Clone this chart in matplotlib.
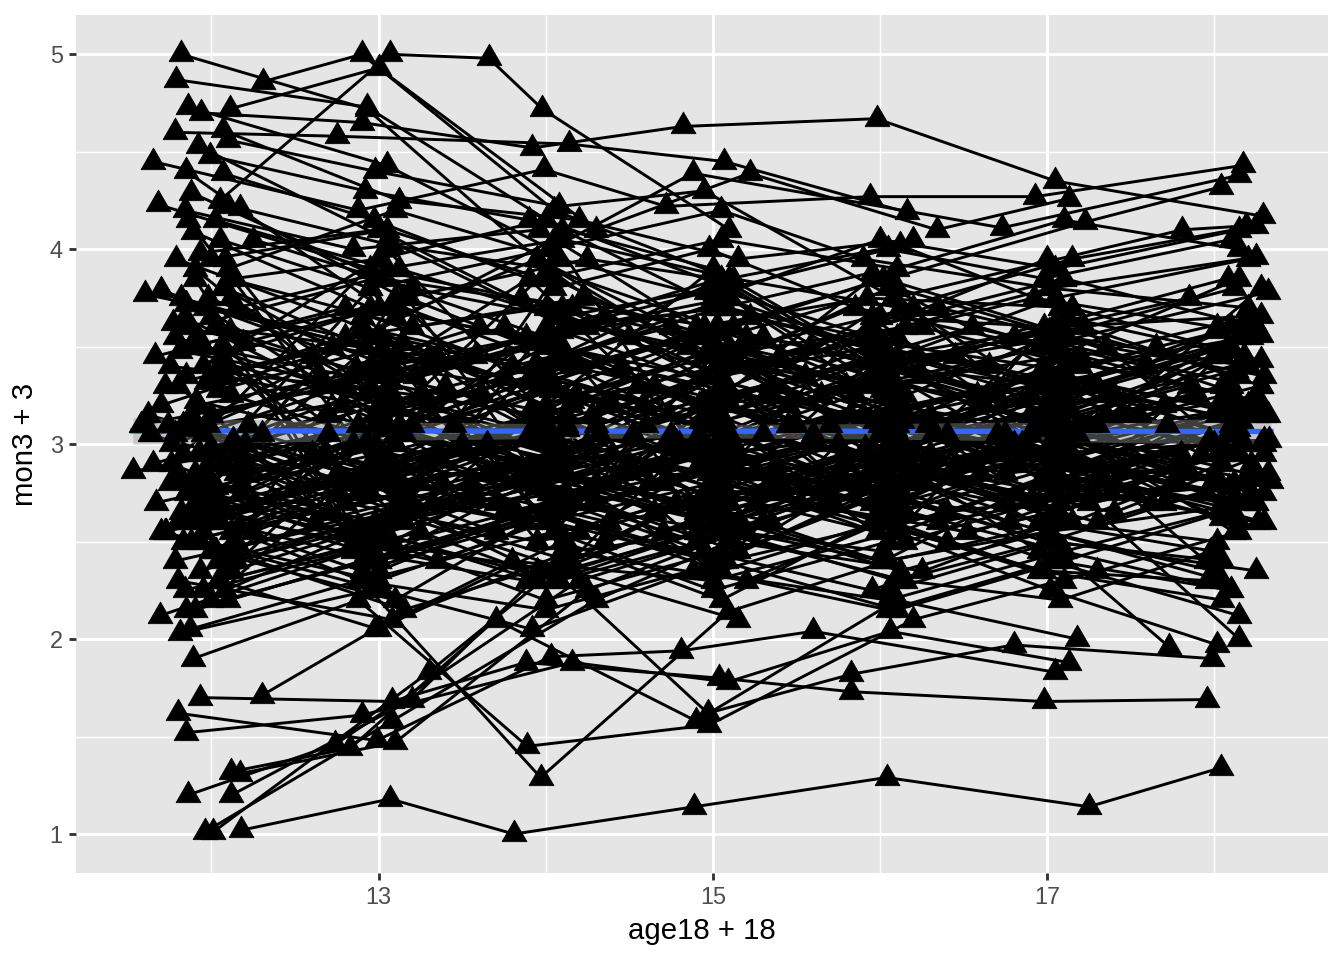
import numpy as np
import matplotlib
matplotlib.use("Agg")
import matplotlib.pyplot as plt

plt.rcParams['font.family'] = ['Liberation Sans', 'DejaVu Sans']

# one row per subject: ages (age18 + 18) and scores (mon3 + 3)
ages = [
    [12.18, 13.07, 13.81, 14.89, 16.04, 17.25, 18.04],
    [11.82, 12.93, 13.95, 15.02, 16.10],
    [12.31, 12.90, 14.05, 15.10, 16.12, 17.08],
    [11.79, 12.93, 14.10, 15.05, 15.95],
    [12.05, 13.07, 13.66, 13.98, 15.10],
    [11.78, 12.75, 14.14, 15.07, 16.16],
    [12.11, 13.00, 14.30, 15.22, 16.34, 17.13],
    [11.94, 12.90, 13.92, 14.82, 15.98, 17.05, 18.29],
    [11.65, 12.88, 13.99, 14.72, 15.94, 16.93, 18.17],
    [11.86, 13.05, 14.03, 14.88, 16.73, 18.15],
    [11.68, 12.95, 13.85, 15.03, 16.06, 17.23, 18.04],
    [12.07, 13.12, 14.20, 15.15, 16.20],
    [12.10, 12.98, 14.08, 14.95, 16.08, 17.81, 18.19],
    [11.92, 13.05, 14.12, 15.08, 15.90, 17.02, 18.25],
    [11.99, 12.92, 13.90, 15.00, 16.02, 17.10],
    [11.85, 13.10, 13.95, 15.12, 15.85, 16.95, 18.32],
    [12.07, 12.97, 14.05, 14.98, 16.00, 17.05, 18.28],
    [11.88, 13.02, 14.16, 15.05, 16.25, 17.20, 18.28],
    [11.84, 12.85, 13.96, 14.90, 15.92, 17.15, 18.28],
    [12.10, 13.15, 14.25, 15.02, 16.10, 17.00],
    [12.17, 13.08, 14.02, 15.20, 16.05],
    [11.89, 12.95, 13.88, 15.05, 15.98, 17.08, 18.02],
    [12.25, 13.20, 14.10, 14.95, 16.15],
    [11.79, 12.90, 13.93, 15.10, 16.02, 17.05, 18.10],
    [11.93, 13.00, 14.05, 14.85, 16.10, 17.12, 18.20],
    [11.60, 12.80, 14.00, 15.05, 15.95, 16.90],
    [11.70, 12.95, 13.75, 14.92, 16.05, 17.18, 18.05],
    [11.53, 12.98, 14.12, 15.00, 16.08],
    [11.62, 12.92, 13.98, 15.08, 16.00, 17.02, 18.30],
    [11.64, 13.05, 14.02, 14.95, 15.85, 16.98],
    [11.69, 12.85, 13.89, 15.15, 16.12, 17.00, 18.25],
    [11.81, 12.95, 13.97, 15.09, 16.05, 17.10],
    [11.89, 12.88, 13.89, 14.98, 16.20, 17.30],
    [11.93, 13.08, 13.88, 15.04, 15.83, 16.98, 17.96],
    [11.80, 12.99, 14.03, 14.81, 15.60, 17.05],
    [11.85, 12.90, 14.16, 15.09, 16.06, 17.13],
    [11.86, 12.74, 14.20, 15.15, 16.02],
    [12.12, 12.83, 13.70, 14.90, 16.10, 17.18],
    [12.17, 13.10, 14.25, 15.30, 16.00],
    [12.12, 13.20, 14.10, 15.20, 16.15, 17.02, 18.15],
    [11.96, 13.08, 14.30, 15.10, 16.25],
    [12.01, 13.30, 14.05, 14.97, 15.83, 16.80, 17.99],
    [12.30, 12.98, 13.80, 15.00, 16.10, 17.02, 18.02],
    [12.00, 13.10, 14.00, 15.00, 16.05, 17.00, 17.73],
    [11.95, 12.85, 13.95, 14.88, 16.02, 17.05, 18.15],
    [12.05, 13.00, 14.10, 15.05, 15.95, 16.98, 17.96],
    [11.75, 13.25, 14.30, 15.35, 16.30, 17.35, 18.10],
    [11.90, 12.70, 13.70, 14.70, 15.70, 16.75, 17.80],
    [12.02, 13.30, 14.35, 15.30, 16.25, 17.30, 18.25],
    [11.83, 12.75, 13.65, 14.65, 15.75, 16.70, 17.75],
    [12.08, 13.28, 14.28, 15.25, 16.35, 17.28, 18.30],
    [11.72, 12.72, 13.75, 14.75, 15.65, 16.65, 17.70],
    [11.98, 13.22, 14.25, 15.28, 16.28, 17.25, 18.22],
    [12.15, 12.78, 13.72, 14.72, 15.72, 16.72, 17.72],
    [11.87, 13.18, 14.20, 15.22, 16.22, 17.22, 18.28],
    [12.00, 12.80, 13.78, 14.78, 15.78, 16.78, 17.78],
    [11.92, 13.35, 14.32, 15.32, 16.32, 17.32, 18.32],
    [11.80, 12.68, 13.62, 14.62, 15.62, 16.62, 17.62],
    [12.10, 13.20, 14.22, 15.20, 16.20, 17.20, 18.20],
    [11.95, 12.82, 13.82, 14.82, 15.82, 16.82, 17.85],
    [12.04, 13.32, 14.40, 15.40, 16.40, 17.40, 18.30],
    [11.84, 12.65, 13.58, 14.58, 15.58, 16.58, 17.58],
    [12.20, 13.40, 14.45, 15.45, 16.45, 17.45, 17.92],
    [11.76, 12.62, 13.55, 14.52, 15.52, 16.52, 17.52],
    [12.06, 13.00, 14.10, 15.05, 16.02, 17.08, 18.15],
    [11.90, 12.85, 14.02, 14.90, 16.15, 17.05, 18.05],
    [12.12, 13.10, 13.92, 15.00, 16.00, 17.18, 18.25],
    [11.78, 13.05, 14.05, 15.08, 15.90, 16.98, 18.00],
    [11.97, 12.98, 14.15, 15.12, 16.08, 17.00, 18.12],
    [12.02, 13.02, 14.00, 14.98, 16.05, 17.10, 18.08],
    [11.88, 12.90, 13.88, 15.05, 16.10, 17.05, 18.18],
    [12.15, 13.12, 14.08, 15.00, 15.95, 16.92, 18.02],
    [11.74, 12.95, 14.12, 15.10, 16.02, 17.15, 18.22],
    [11.93, 13.08, 14.02, 14.95, 16.00, 17.02, 18.10],
    [12.08, 12.92, 13.96, 15.02, 16.12, 17.08, 18.05],
    [11.82, 13.00, 14.05, 15.08, 16.05, 16.95, 18.00],
    [12.00, 13.05, 14.18, 15.15, 16.08, 17.12, 18.28],
    [11.95, 12.88, 13.92, 14.90, 15.92, 17.00, 18.08],
    [12.18, 13.15, 14.05, 15.05, 16.10, 17.05, 18.15],
    [11.86, 12.98, 14.00, 15.00, 16.00, 17.10, 18.20],
    [11.90, 13.05, 15.02, 17.00],
    [12.05, 14.00, 16.05, 18.10],
    [11.80, 12.95, 14.10, 16.00],
    [12.10, 13.02, 15.10, 16.95, 18.05],
    [11.96, 14.05, 15.00, 17.05],
    [12.00, 13.10, 14.95, 16.10, 18.15],
    [11.85, 13.00, 14.02, 15.08, 17.10],
    [12.22, 13.08, 15.05, 16.02, 17.08, 18.25],
    [11.73, 12.90, 14.08, 16.05, 17.95],
    [12.08, 13.00, 14.00, 15.15, 16.98],
    [11.98, 12.95, 14.15, 15.02, 16.08, 18.10],
    [11.92, 13.12, 14.05, 16.00, 17.02],
    [12.03, 13.05, 14.95, 15.95, 17.05, 18.05],
    [11.88, 12.92, 13.95, 15.05, 16.90, 18.20],
    [12.12, 14.10, 15.00, 16.05, 17.00, 18.00],
    [11.94, 13.00, 14.02, 15.10, 16.12, 17.15],
    [11.76, 12.98, 13.90, 14.92, 16.00, 17.05, 18.12],
    [12.06, 13.10, 14.12, 15.02, 15.98, 17.10, 18.28],
    [11.84, 12.95, 14.05, 15.00, 16.02, 17.00, 18.05],
    [12.00, 13.05, 13.98, 15.05, 16.10, 17.10, 18.15],
    [11.90, 12.90, 14.10, 14.95, 15.95, 17.05, 18.02],
    [12.14, 13.00, 14.00, 15.10, 16.05, 16.98, 18.10],
    [11.80, 13.08, 14.15, 15.02, 16.15, 17.08, 17.98],
    [12.05, 12.95, 14.02, 15.05, 15.90, 17.02, 18.20],
    [11.93, 13.02, 13.92, 14.88, 16.05, 17.10, 18.10],
    [12.10, 13.10, 14.08, 15.00, 16.00, 17.05, 18.15],
    [11.87, 12.88, 14.00, 15.08, 16.08, 16.95, 18.05],
    [12.02, 13.05, 14.10, 15.12, 16.12, 17.15, 18.25],
    [11.70, 12.60, 13.50, 14.55, 15.50, 16.60, 17.55],
    [12.25, 13.35, 14.40, 15.35, 16.40, 17.40],
    [11.95, 13.40, 14.50, 15.55, 16.55, 17.60],
    [12.18, 12.70, 13.65, 14.60, 15.65, 16.65, 17.70],
    [11.82, 13.30, 14.35, 15.40, 16.35, 17.35, 18.30],
    [12.30, 13.25, 14.25, 15.25, 16.30, 17.25],
    [11.92, 12.75, 13.70, 14.70, 15.75, 16.75, 17.80],
    [12.08, 13.45, 14.45, 15.45, 16.45, 17.45],
    [11.66, 12.80, 13.80, 14.75, 15.80, 16.80, 17.85],
    [12.20, 13.20, 14.30, 15.30, 16.25, 17.30, 18.32],
    [11.98, 12.65, 13.60, 14.65, 15.60, 16.70, 17.65],
    [12.12, 13.38, 14.38, 15.38, 16.38, 17.38],
    [11.86, 13.05, 14.95, 16.95],
    [12.04, 14.02, 16.00, 18.00],
    [11.90, 12.98, 15.05, 17.05, 18.15],
    [12.15, 13.10, 14.10, 17.00],
    [11.78, 14.05, 15.10, 18.10],
    [12.00, 13.00, 16.05, 17.95],
    [11.95, 12.90, 13.95, 15.95, 18.05],
    [12.10, 13.15, 15.00, 16.10, 17.10],
    [11.83, 13.05, 14.00, 15.05, 18.20],
    [12.07, 14.08, 15.02, 16.02, 17.05],
    [11.91, 12.93, 14.03, 15.04, 16.03, 17.03, 18.06],
    [12.09, 13.04, 14.07, 14.97, 16.07, 17.07, 18.14],
    [11.81, 12.96, 13.97, 15.06, 15.97, 16.97, 18.01],
    [12.01, 13.06, 14.11, 15.01, 16.11, 17.11, 18.21],
    [11.97, 12.91, 13.93, 14.93, 15.93, 17.01, 18.11],
    [12.13, 13.13, 14.13, 15.13, 16.13, 17.13, 18.23],
    [11.77, 12.87, 13.91, 15.01, 16.01, 17.06, 18.09],
    [12.03, 13.03, 14.01, 14.91, 15.91, 16.91, 17.97],
    [11.89, 13.09, 14.09, 15.09, 16.09, 17.09, 18.16],
    [12.17, 12.97, 13.99, 14.99, 15.99, 17.04, 18.04],
    [11.85, 13.01, 14.06, 15.03, 16.06, 16.99, 18.13],
    [11.99, 12.94, 14.04, 14.94, 16.04, 17.14, 18.19],
    [12.06, 13.11, 14.14, 15.07, 15.96, 17.01, 18.07],
    [11.79, 12.99, 13.94, 15.11, 16.11, 17.06, 18.11],
    [12.11, 13.07, 14.02, 14.96, 15.99, 17.03, 18.03],
    [11.94, 12.89, 13.89, 14.89, 16.01, 16.96, 18.09],
    [12.04, 13.14, 14.16, 15.14, 16.14, 17.16, 18.26],
    [11.87, 12.93, 13.96, 15.04, 16.04, 17.04, 18.14],
    [12.19, 13.09, 14.04, 15.09, 16.01, 17.09, 18.24],
    [11.91, 13.01, 13.99, 14.94, 16.09, 17.11, 18.04],
    [11.58, 12.80, 13.90, 14.98, 16.02, 17.02, 18.33],
    [11.63, 12.88, 14.02, 15.06, 15.96, 17.08, 18.34],
    [11.67, 13.00, 13.95, 14.92, 16.05, 17.00, 18.30],
    [11.72, 12.92, 14.08, 15.02, 15.98, 16.95, 18.26],
    [11.88, 12.95, 14.20, 15.10, 16.30, 17.15, 18.10],
    [12.02, 13.20, 14.05, 14.90, 15.80, 16.90, 18.00],
    [11.75, 12.85, 13.55, 14.80, 15.70, 17.00, 18.20],
    [12.12, 13.05, 14.40, 15.20, 16.15, 17.10, 18.30],
    [11.95, 12.60, 13.80, 15.00, 16.00, 16.85, 17.90],
    [12.20, 13.15, 14.15, 14.85, 16.20, 17.25, 18.15],
    [11.70, 13.00, 14.00, 15.25, 16.05, 17.05, 18.05],
    [12.08, 12.90, 13.70, 15.05, 15.75, 16.75, 17.85],
    [11.85, 13.10, 14.10, 14.95, 16.40, 17.20, 18.25],
    [12.00, 13.35, 14.30, 15.15, 16.00, 17.00, 18.12],
    [11.92, 12.80, 13.95, 15.40, 16.10, 17.30, 18.18],
    [12.15, 13.08, 14.50, 15.00, 15.90, 16.95, 18.02],
    [11.80, 12.98, 13.85, 14.70, 16.25, 17.05, 18.22],
    [12.05, 13.25, 14.05, 15.10, 16.05, 17.40, 18.30],
    [11.90, 12.92, 14.25, 14.95, 15.85, 16.80, 17.95],
    [12.25, 13.00, 14.00, 15.30, 16.15, 17.15, 18.08],
    [11.65, 12.70, 13.90, 15.00, 16.00, 17.00, 17.80],
    [12.10, 13.10, 14.15, 14.85, 15.95, 17.10, 18.25],
    [11.98, 13.05, 13.75, 15.08, 16.30, 17.20, 18.15],
    [12.00, 12.95, 14.08, 15.15, 16.08, 16.90, 18.02],
    [11.83, 13.15, 14.35, 15.05, 16.12, 17.05, 18.10],
    [12.18, 12.88, 13.98, 14.92, 15.80, 16.95, 18.20],
    [11.93, 13.02, 14.12, 15.35, 16.20, 17.15, 18.05],
    [12.07, 13.30, 14.05, 15.00, 16.05, 17.35, 18.28],
    [11.87, 12.90, 13.88, 14.98, 16.00, 17.02, 18.15],
    [12.02, 13.00, 14.10, 15.05, 16.10, 17.05, 18.20],
    [11.90, 13.12, 14.02, 15.12, 16.02, 16.98, 18.08],
    [12.12, 12.95, 13.95, 14.95, 15.95, 17.10, 18.25],
    [11.80, 13.05, 14.15, 15.02, 16.15, 17.02, 18.12],
    [12.05, 12.98, 14.05, 15.10, 16.08, 17.12, 18.18],
    [11.95, 13.05, 14.00, 15.05],
    [14.95, 16.05, 17.05, 18.10],
    [12.10, 13.15, 14.10],
    [15.10, 16.10, 17.00, 18.05],
    [12.00, 12.90, 14.05, 15.00, 16.05],
    [13.00, 14.00, 15.05, 16.00, 17.10, 18.15],
    [11.78, 13.08, 14.15, 15.15],
    [16.05, 17.05, 18.25],
    [12.15, 13.00, 13.95, 14.90, 15.90, 17.00, 18.00],
    [11.85, 12.95, 14.05, 15.05, 16.10, 17.10, 18.05],
]

mon = [
    [1.02, 1.18, 1.00, 1.14, 1.29, 1.14, 1.34],
    [5.00, 4.72, 3.95, 3.40, 3.55],
    [4.86, 5.00, 4.20, 3.85, 4.02, 3.70],
    [4.87, 4.73, 4.10, 3.70, 3.88],
    [4.25, 5.00, 4.98, 4.72, 4.10],
    [4.60, 4.58, 4.54, 4.45, 4.19],
    [4.72, 4.93, 4.10, 4.39, 4.10, 4.26],
    [4.70, 4.65, 4.52, 4.63, 4.67, 4.35, 4.17],
    [4.45, 4.20, 4.41, 4.22, 4.27, 4.27, 4.43],
    [4.73, 4.43, 4.00, 4.39, 4.11, 4.38],
    [4.23, 3.90, 3.75, 3.60, 3.85, 4.14, 4.32],
    [4.61, 4.25, 4.15, 3.95, 4.05],
    [4.56, 4.40, 4.22, 4.30, 3.75, 4.10, 4.12],
    [4.53, 4.05, 3.60, 3.70, 3.55, 3.80, 3.96],
    [4.48, 4.30, 4.15, 3.90, 3.40, 3.55],
    [4.40, 3.65, 3.95, 3.45, 3.70, 3.50, 3.78],
    [4.39, 4.15, 3.80, 4.00, 3.65, 3.60, 3.66],
    [4.29, 3.85, 3.70, 3.35, 3.60, 3.40, 3.56],
    [4.20, 4.00, 4.10, 3.60, 3.75, 3.70, 3.43],
    [4.22, 3.75, 3.95, 3.85, 3.30, 3.20],
    [4.21, 4.02, 3.90, 3.55, 3.25],
    [4.09, 3.70, 3.55, 3.85, 3.40, 3.30, 3.15],
    [4.05, 3.80, 3.65, 3.45, 3.60],
    [3.95, 3.60, 3.40, 3.75, 3.30, 3.45, 3.25],
    [3.98, 4.10, 3.65, 3.50, 3.80, 3.55, 3.40],
    [3.77, 3.55, 3.70, 3.35, 3.50, 3.25],
    [3.79, 3.40, 3.60, 3.20, 3.45, 3.10, 3.30],
    [2.86, 3.10, 2.75, 2.95, 3.05],
    [3.15, 2.85, 3.30, 3.05, 2.75, 3.00, 3.02],
    [3.05, 3.25, 2.90, 3.10, 2.80, 2.95],
    [2.12, 2.45, 2.30, 2.60, 2.35, 2.55, 2.70],
    [2.03, 2.25, 1.29, 2.14, 2.40, 2.60],
    [1.90, 2.20, 1.45, 1.56, 2.10, 2.35],
    [1.70, 1.68, 1.88, 1.80, 1.73, 1.68, 1.69],
    [1.62, 1.48, 1.91, 1.94, 2.04, 1.83],
    [1.52, 1.61, 1.88, 1.78, 2.04, 1.88],
    [1.20, 1.46, 2.30, 2.55, 2.45],
    [1.32, 1.44, 2.10, 1.58, 2.20, 2.00],
    [1.31, 1.47, 2.25, 2.60, 2.40],
    [1.20, 1.69, 2.45, 2.30, 2.65, 2.40, 2.12],
    [1.01, 1.58, 2.20, 2.50, 2.35],
    [1.01, 1.83, 2.35, 1.62, 1.82, 1.97, 1.90],
    [1.71, 2.05, 2.40, 2.30, 2.55, 2.25, 1.97],
    [2.45, 2.20, 2.65, 2.40, 2.75, 2.50, 1.96],
    [2.55, 2.80, 2.35, 2.60, 2.40, 2.85, 2.00],
    [2.30, 2.05, 2.50, 2.20, 2.60, 2.35, 2.30],
    [3.40, 3.25, 3.10, 3.30, 2.95, 3.15, 3.05],
    [2.80, 3.05, 2.70, 2.90, 3.10, 2.85, 2.95],
    [3.60, 3.45, 3.20, 3.55, 3.35, 3.10, 3.25],
    [3.10, 2.75, 3.00, 2.65, 2.85, 3.05, 2.80],
    [2.65, 2.90, 3.15, 2.85, 2.60, 2.75, 3.00],
    [3.30, 3.50, 3.35, 3.05, 3.25, 3.40, 3.20],
    [3.75, 3.35, 3.60, 3.40, 3.10, 3.30, 3.55],
    [2.95, 3.20, 2.85, 3.00, 2.70, 2.95, 3.10],
    [3.50, 3.75, 3.40, 3.65, 3.45, 3.60, 3.30],
    [2.75, 2.55, 2.90, 2.70, 2.95, 2.60, 2.80],
    [3.20, 3.45, 3.05, 3.25, 3.05, 2.85, 3.15],
    [2.60, 2.95, 3.25, 2.80, 3.00, 3.20, 2.70],
    [3.85, 3.60, 3.75, 3.50, 3.70, 3.45, 3.65],
    [3.05, 2.80, 2.65, 2.95, 3.15, 2.90, 2.85],
    [2.40, 2.70, 2.95, 2.75, 2.50, 2.80, 2.60],
    [3.65, 3.30, 3.45, 3.20, 3.50, 3.25, 3.40],
    [3.00, 3.30, 2.85, 3.10, 2.90, 3.15, 2.95],
    [2.90, 2.60, 2.80, 3.05, 2.70, 2.55, 2.75],
    [3.45, 3.70, 3.50, 3.25, 3.45, 3.60, 3.35],
    [2.70, 3.00, 2.75, 2.50, 2.80, 2.65, 2.95],
    [3.25, 3.00, 3.35, 3.15, 3.35, 3.05, 3.20],
    [3.55, 3.20, 2.95, 3.40, 3.15, 3.35, 3.00],
    [2.85, 3.15, 3.40, 3.00, 3.25, 2.80, 3.05],
    [3.35, 3.55, 3.20, 3.45, 3.00, 3.25, 3.50],
    [2.50, 2.75, 2.60, 2.90, 2.65, 2.95, 2.70],
    [3.70, 3.90, 3.65, 3.80, 3.55, 3.75, 3.60],
    [3.10, 2.90, 3.15, 2.85, 3.05, 3.30, 2.90],
    [2.95, 3.25, 3.05, 3.35, 3.10, 2.90, 3.15],
    [3.80, 3.50, 3.30, 3.60, 3.40, 3.15, 3.45],
    [2.65, 2.40, 2.70, 2.55, 2.85, 2.60, 2.45],
    [3.15, 3.40, 3.25, 2.95, 3.20, 3.05, 3.30],
    [3.40, 3.10, 3.35, 3.55, 3.30, 3.50, 3.25],
    [2.80, 3.05, 2.85, 2.65, 2.90, 2.75, 2.95],
    [3.60, 3.85, 3.55, 3.70, 3.50, 3.30, 3.55],
    [3.90, 3.10, 2.60, 3.30],
    [2.60, 3.50, 2.80, 3.60],
    [3.30, 2.45, 3.70, 2.90],
    [2.35, 3.40, 3.75, 2.70, 3.20],
    [3.70, 2.55, 3.45, 2.85],
    [2.20, 3.05, 3.60, 3.10, 3.85],
    [3.35, 3.95, 2.75, 3.25, 2.60],
    [3.10, 2.50, 3.35, 2.60, 3.70, 2.85],
    [2.55, 3.65, 3.00, 3.80, 2.40],
    [3.95, 2.95, 3.60, 2.45, 3.40],
    [2.90, 3.80, 2.40, 3.15, 3.75, 2.65],
    [3.55, 2.70, 3.85, 3.05, 2.55],
    [2.45, 3.20, 2.75, 3.65, 3.00, 3.45],
    [3.15, 2.55, 3.40, 3.85, 2.95, 3.60],
    [3.75, 2.65, 3.15, 2.50, 3.35, 2.80],
    [2.75, 3.55, 2.60, 3.50, 2.90, 3.70],
    [3.00, 3.35, 3.85, 3.00, 2.65, 3.10, 2.55],
    [3.50, 2.85, 3.10, 2.70, 3.45, 2.95, 3.80],
    [2.25, 2.50, 2.35, 2.65, 2.40, 2.55, 2.30],
    [3.95, 4.10, 3.85, 4.05, 3.90, 4.15, 4.00],
    [2.15, 2.40, 2.70, 2.45, 2.25, 2.60, 2.50],
    [3.85, 3.95, 4.15, 3.80, 4.00, 3.85, 4.05],
    [2.30, 2.10, 2.45, 2.55, 2.30, 2.20, 2.45],
    [4.05, 3.80, 4.00, 4.20, 3.95, 3.80, 3.70],
    [2.50, 2.25, 2.05, 2.35, 2.20, 2.45, 2.25],
    [3.90, 4.20, 3.95, 3.75, 4.05, 3.90, 4.10],
    [2.05, 2.30, 2.15, 2.40, 2.60, 2.35, 2.20],
    [4.15, 3.90, 4.05, 3.85, 3.70, 3.95, 4.12],
    [3.20, 3.45, 3.00, 3.30, 3.10, 2.85, 3.15],
    [2.70, 2.95, 3.20, 2.80, 3.05, 3.25],
    [3.50, 3.25, 3.55, 3.35, 3.60, 3.40],
    [2.90, 2.65, 2.85, 3.10, 2.75, 2.95, 2.70],
    [3.75, 3.40, 3.65, 3.45, 3.70, 3.50, 3.35],
    [3.05, 2.80, 3.00, 2.70, 2.90, 3.10],
    [2.60, 2.85, 2.55, 2.80, 3.00, 2.70, 2.90],
    [3.35, 3.10, 3.40, 3.20, 3.45, 3.15],
    [3.45, 3.70, 3.40, 3.60, 3.30, 3.55, 3.75],
    [2.85, 3.10, 2.80, 3.05, 2.85, 2.60, 2.85],
    [3.10, 3.35, 3.60, 3.30, 3.05, 3.25, 3.50],
    [2.55, 2.80, 2.60, 2.90, 2.65, 2.75],
    [4.15, 2.80, 3.55, 2.45],
    [2.30, 3.90, 2.65, 3.45],
    [3.85, 2.40, 3.30, 2.65, 3.55],
    [2.50, 3.75, 2.95, 3.95],
    [3.05, 4.05, 2.70, 3.30],
    [3.65, 2.35, 3.40, 2.75],
    [2.75, 3.65, 2.50, 3.85, 2.95],
    [3.40, 2.60, 3.90, 2.75, 3.45],
    [2.95, 4.00, 3.15, 2.40, 3.65],
    [3.80, 2.85, 2.35, 3.25, 2.90],
    [3.22, 3.02, 3.28, 3.08, 2.92, 3.18, 2.98],
    [2.88, 3.12, 2.92, 3.22, 3.02, 2.82, 3.08],
    [3.48, 3.28, 3.52, 3.32, 3.12, 3.38, 3.18],
    [2.68, 2.92, 2.72, 2.98, 2.78, 3.02, 2.82],
    [3.32, 3.58, 3.38, 3.12, 3.42, 3.22, 3.48],
    [3.02, 2.78, 3.08, 2.88, 3.12, 2.92, 2.72],
    [3.62, 3.38, 3.18, 3.48, 3.28, 3.52, 3.32],
    [2.78, 3.08, 2.88, 2.68, 2.98, 2.72, 3.02],
    [3.12, 3.38, 3.58, 3.28, 3.08, 3.32, 3.12],
    [2.58, 2.82, 3.02, 2.78, 2.62, 2.88, 2.68],
    [3.72, 3.48, 3.28, 3.58, 3.32, 3.12, 3.38],
    [2.98, 3.28, 3.52, 3.22, 2.98, 3.18, 3.42],
    [3.42, 3.18, 2.92, 3.12, 3.38, 3.58, 3.28],
    [2.82, 2.58, 2.78, 3.02, 3.22, 2.92, 2.72],
    [3.58, 3.32, 3.58, 3.78, 3.48, 3.28, 3.58],
    [2.72, 2.52, 2.82, 2.62, 2.88, 3.08, 2.78],
    [3.28, 3.52, 3.22, 3.42, 3.18, 3.42, 3.22],
    [3.08, 2.82, 3.12, 2.88, 2.68, 2.92, 3.18],
    [3.52, 3.72, 3.42, 3.22, 3.52, 3.38, 3.62],
    [2.62, 2.88, 3.12, 2.92, 2.72, 2.98, 2.62],
    [3.10, 3.30, 3.05, 2.85, 3.10, 2.95, 3.02],
    [3.05, 2.75, 2.95, 3.20, 2.90, 2.70, 2.81],
    [2.70, 2.95, 3.15, 2.90, 3.15, 3.35, 3.15],
    [2.55, 2.80, 2.55, 2.75, 2.55, 2.80, 2.60],
    [2.60, 2.85, 2.55, 2.95, 3.10, 2.80, 3.05],
    [2.45, 2.70, 2.95, 2.65, 2.90, 3.15, 2.85],
    [2.80, 2.50, 2.75, 3.00, 2.70, 2.95, 3.20],
    [2.35, 2.60, 2.80, 2.55, 2.85, 3.05, 2.75],
    [2.70, 2.95, 2.65, 2.40, 2.75, 3.00, 3.25],
    [2.90, 2.65, 2.40, 2.70, 2.95, 2.70, 3.00],
    [2.55, 2.30, 2.60, 2.85, 3.10, 2.85, 2.70],
    [2.25, 2.55, 2.85, 3.10, 2.80, 3.05, 3.30],
    [2.75, 3.00, 2.70, 2.95, 2.65, 2.90, 3.15],
    [2.65, 2.40, 2.70, 2.45, 2.75, 2.50, 2.80],
    [2.95, 2.70, 2.50, 2.80, 3.05, 3.30, 3.00],
    [2.40, 2.65, 2.90, 3.20, 2.95, 2.70, 2.95],
    [2.85, 2.60, 2.85, 2.55, 2.80, 3.05, 2.75],
    [2.30, 2.55, 2.30, 2.60, 2.90, 2.65, 2.95],
    [2.70, 2.45, 2.75, 3.00, 3.25, 3.00, 2.75],
    [2.55, 2.80, 3.05, 2.75, 2.50, 2.75, 3.05],
    [2.90, 3.15, 2.85, 2.60, 2.85, 3.15, 2.90],
    [2.20, 2.45, 2.70, 2.95, 2.70, 2.45, 2.70],
    [2.60, 2.90, 2.65, 2.90, 3.15, 2.90, 3.20],
    [2.80, 2.55, 2.30, 2.55, 2.80, 3.05, 2.80],
    [2.50, 2.75, 2.50, 2.80, 2.55, 2.85, 3.10],
    [2.75, 2.50, 2.80, 3.05, 2.80, 3.10, 2.85],
    [2.35, 2.60, 2.85, 2.60, 2.85, 2.60, 2.90],
    [2.90, 3.20, 2.95, 2.70, 3.00, 3.25, 3.00],
    [2.65, 2.35, 2.60, 2.85, 3.10, 2.85, 2.60],
    [2.95, 3.20, 3.45, 3.70, 3.45, 3.75, 3.95],
    [2.85, 3.10, 3.35, 3.60, 3.85, 3.60, 3.85],
    [3.00, 2.75, 3.05, 3.35, 3.60, 3.85, 3.60],
    [2.60, 2.90, 3.20, 3.50, 3.25, 3.55, 3.80],
    [2.70, 3.00, 3.30, 3.05, 3.40, 3.65, 3.45],
    [2.25, 2.50, 2.20, 2.45],
    [2.35, 2.15, 2.40, 2.25],
    [2.45, 2.15, 2.40],
    [2.55, 2.30, 2.50, 2.40],
    [2.60, 2.30, 2.55, 2.25, 2.50],
    [2.40, 2.65, 2.35, 2.60, 2.30, 2.55],
    [2.40, 2.65, 2.35, 2.10],
    [2.25, 2.50, 2.35],
    [2.85, 2.55, 2.30, 2.55, 2.80, 2.55, 2.35],
    [2.15, 2.40, 2.65, 2.40, 2.15, 2.40, 2.65],
]

# equilateral triangle like R's pch 17
tri = [(-1.0, -0.577), (1.0, -0.577), (0.0, 1.155), (-1.0, -0.577)]

fig = plt.figure(figsize=(7, 5), dpi=192)
ax = fig.add_axes([0.0565, 0.0906, 0.9315, 0.8934])
ax.set_facecolor('#E5E5E5')

for a, m in zip(ages, mon):
    ax.plot(a, m, color='black', lw=1.1, zorder=2)

x_all = np.concatenate([np.array(a) for a in ages])
y_all = np.concatenate([np.array(m) for m in mon])

# linear smooth with 95% band
slope, icpt = np.polyfit(x_all, y_all, 1)
xs = np.linspace(x_all.min(), x_all.max(), 80)
yhat = icpt + slope * xs
n = len(x_all)
resid = y_all - (icpt + slope * x_all)
s = np.sqrt(np.sum(resid ** 2) / (n - 2))
se = s * np.sqrt(1 / n + (xs - x_all.mean()) ** 2 / np.sum((x_all - x_all.mean()) ** 2))
ax.fill_between(xs, yhat - 1.96 * se, yhat + 1.96 * se, color='#999999', alpha=0.4, lw=0, zorder=3)
ax.plot(xs, yhat, color='#3366FF', lw=2.0, zorder=3)

ax.plot(x_all, y_all, ls='none', marker=tri, ms=10.8, color='black', mew=0.3, zorder=4)

xspan = x_all.max() - x_all.min()
ax.set_xlim(x_all.min() - 0.05 * xspan, x_all.max() + 0.05 * xspan)
ax.set_ylim(0.8, 5.2)
ax.set_xticks([13, 15, 17])
ax.set_xticks([12, 14, 16, 18], minor=True)
ax.set_yticks([1, 2, 3, 4, 5])
ax.set_yticks([1.5, 2.5, 3.5, 4.5], minor=True)
ax.grid(which='major', color='white', lw=1.07)
ax.grid(which='minor', color='white', lw=0.53)
ax.set_axisbelow(True)
for sp in ax.spines.values():
    sp.set_visible(False)
ax.tick_params(which='major', length=2.75, width=1.07, color='#333333',
               labelsize=8.8, labelcolor='#4D4D4D', pad=2.2)
ax.tick_params(which='minor', length=0)

ax.set_xlabel("age18 + 18", fontsize=11, color='black', labelpad=3)
ax.set_ylabel("mon3 + 3", fontsize=11, color='black', labelpad=4)

fig.savefig("out.png", dpi=192)
